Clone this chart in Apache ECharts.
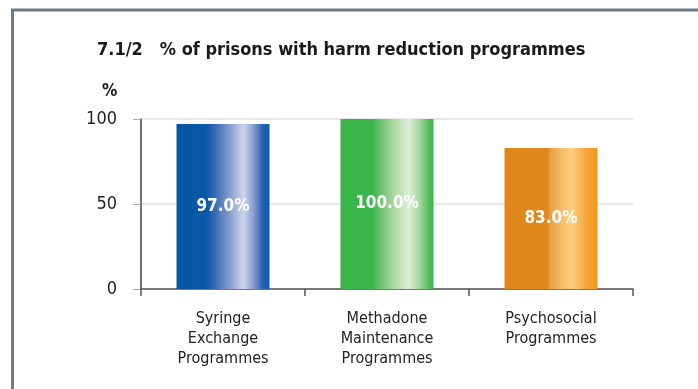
<!DOCTYPE html>
<html>
<head>
<meta charset="utf-8">
<script src="https://cdn.jsdelivr.net/npm/echarts@6/dist/echarts.min.js"></script>
<style>
html,body{margin:0;padding:0;background:#fff;}
#chart{width:698px;height:389px;}
</style>
</head>
<body>
<div id="chart"></div>
<script>
const titleText = '7.1/2   % of prisons with harm reduction programmes';
const unitLabel = '%';
const categories = ['Syringe\nExchange\nProgrammes', 'Methadone\nMaintenance\nProgrammes', 'Psychosocial\nProgrammes'];
const values = [97.0, 100.0, 83.0];
const yTicks = { min: 0, max: 100, interval: 50 };

const FONT = '"Liberation Sans Narrow", "DejaVu Sans Condensed", "Liberation Sans", sans-serif';

function grad(stops) {
  return new echarts.graphic.LinearGradient(0, 0, 1, 0, stops.map(s => ({ offset: s[0], color: s[1] })));
}
const barStyles = [
  grad([[0, '#0656a6'], [0.32, '#0a58a8'], [0.42, '#3b6db5'], [0.58, '#8a9fd0'], [0.72, '#ccd5ec'], [0.82, '#8da2d3'], [0.92, '#2a63b2'], [1, '#0d5aaa']]),
  grad([[0, '#39b54a'], [0.34, '#3bb64b'], [0.45, '#79c477'], [0.6, '#b3dbab'], [0.73, '#dcefd7'], [0.85, '#a6d59e'], [0.95, '#55bb5c'], [1, '#3ab54a']]),
  grad([[0, '#df8718'], [0.46, '#df8719'], [0.5, '#eaa347'], [0.62, '#f6bd68'], [0.72, '#fdcd80'], [0.82, '#f9b456'], [0.92, '#f59f2d'], [1, '#f4961e']])
];

const chart = echarts.init(document.getElementById('chart'), null, { renderer: 'canvas' });
chart.setOption({
  animation: false,
  backgroundColor: '#ffffff',
  title: [
    { text: titleText, left: 92, top: 36, textStyle: { fontFamily: FONT, fontSize: 18, fontWeight: 'bold', color: '#1a1a1a' } },
    { text: unitLabel, left: 97, top: 78, textStyle: { fontFamily: FONT, fontSize: 17, fontWeight: 'bold', color: '#1a1a1a' } }
  ],
  graphic: [
    { type: 'rect', shape: { x: 12.5, y: 10, width: 760, height: 460 }, style: { fill: 'none', stroke: '#6e7b83', lineWidth: 3 }, silent: true }
  ],
  grid: { left: 141, right: 65, top: 119, bottom: 100, containLabel: false },
  xAxis: {
    type: 'category',
    data: categories,
    boundaryGap: true,
    axisLine: { show: true, lineStyle: { color: '#555', width: 1.5 } },
    axisTick: { show: true, length: 7, alignWithLabel: false, lineStyle: { color: '#555', width: 1.5 } },
    axisLabel: { fontFamily: FONT, fontSize: 16, lineHeight: 20, color: '#222', margin: 20, interval: 0 }
  },
  yAxis: {
    type: 'value',
    min: yTicks.min, max: yTicks.max, interval: yTicks.interval,
    axisLine: { show: true, lineStyle: { color: '#444', width: 1.5 } },
    axisTick: { show: true, length: 8, lineStyle: { color: '#aaa' } },
    splitLine: { show: true, lineStyle: { color: '#e8e8e8', width: 2 } },
    axisLabel: { fontFamily: FONT, fontSize: 18, color: '#222', margin: 24 }
  },
  series: [{
    type: 'bar',
    barWidth: 93,
    data: values.map((v, i) => ({ value: v, itemStyle: { color: barStyles[i] } })),
    label: {
      show: true,
      position: 'inside',
      formatter: p => p.value.toFixed(1) + '%',
      fontFamily: FONT, fontSize: 17, fontWeight: 'bold', color: '#ffffff'
    }
  }]
});
</script>
</body>
</html>
